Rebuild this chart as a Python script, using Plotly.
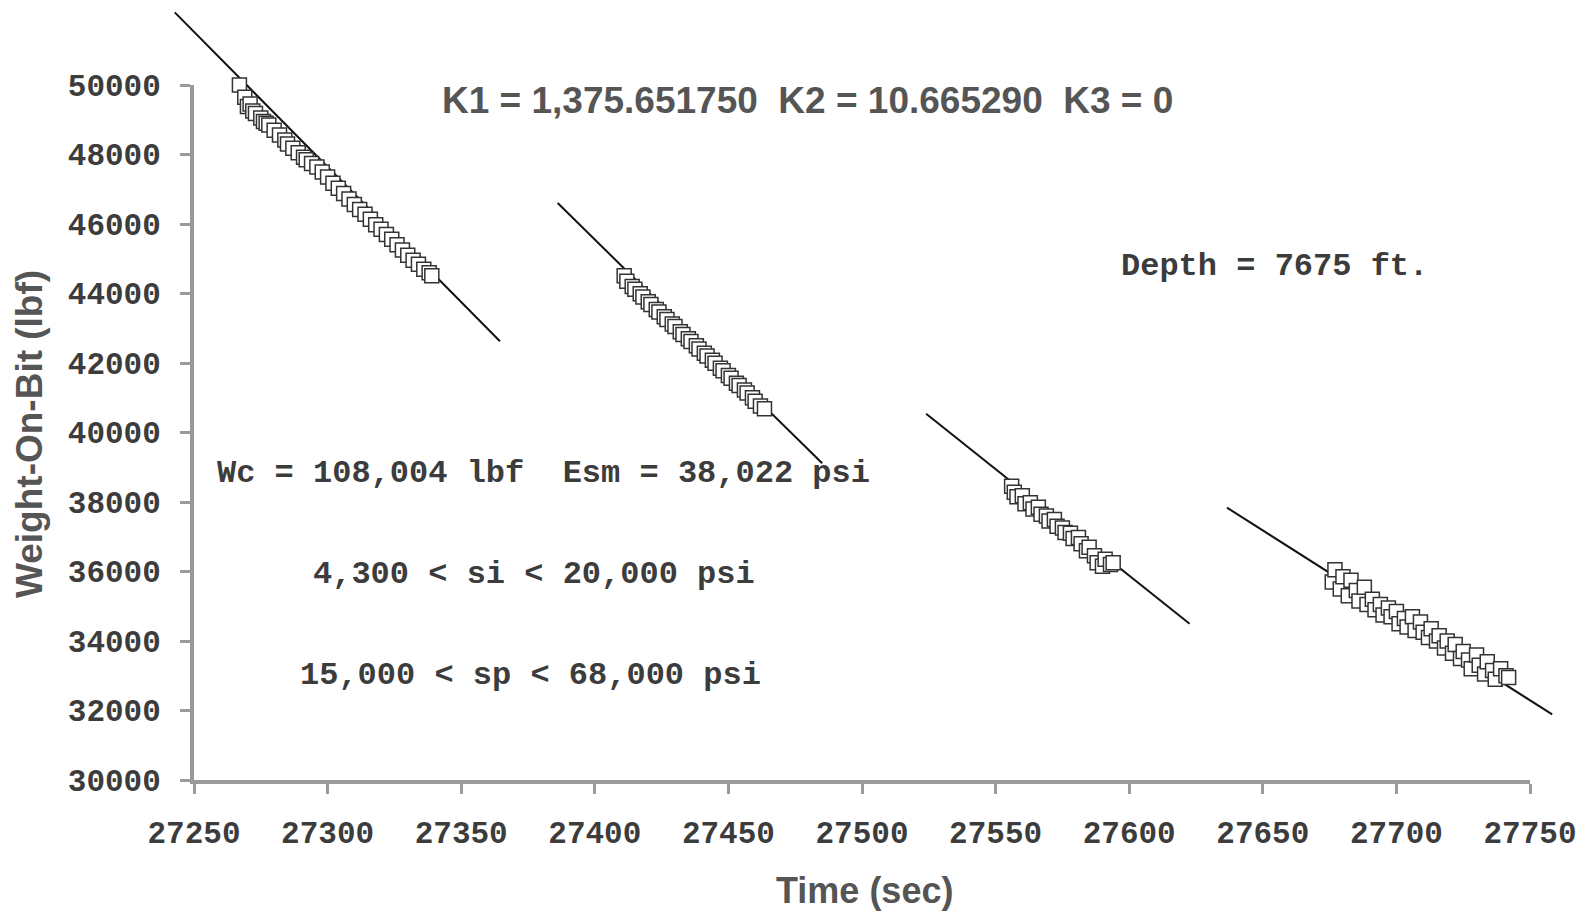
import plotly.graph_objects as go

# ---- measured weight-on-bit samples, four drill-off intervals ----
t1 = [27267, 27269, 27270, 27271, 27272, 27273, 27275, 27276, 27277, 27278, 27280, 27282,
      27284, 27285, 27287, 27289, 27291, 27292, 27294, 27296, 27298, 27300, 27302, 27304,
      27306, 27308, 27310, 27312, 27314, 27316, 27318, 27320, 27322, 27324, 27326, 27328,
      27330, 27332, 27334, 27336, 27338, 27339]
w1 = [50000, 49650, 49380, 49450, 49250, 49180, 49050, 48950, 48900, 48850, 48700, 48560,
      48420, 48300, 48180, 48050, 47920, 47850, 47740, 47640, 47500, 47350, 47170, 47030,
      46880, 46720, 46560, 46420, 46280, 46140, 45980, 45850, 45700, 45560, 45400, 45250,
      45100, 44960, 44840, 44700, 44600, 44514]

t2 = [27411, 27412, 27414, 27415, 27417, 27418, 27420, 27421, 27423, 27424, 27426, 27427,
      27429, 27430, 27432, 27433, 27435, 27436, 27438, 27439, 27441, 27442, 27444, 27445,
      27447, 27448, 27450, 27451, 27453, 27454, 27456, 27457, 27459, 27460, 27462, 27463.5]
w2 = [44514, 44350, 44200, 44120, 43990, 43900, 43760, 43680, 43540, 43470, 43330, 43250,
      43120, 43050, 42900, 42820, 42700, 42620, 42500, 42400, 42280, 42200, 42080, 41990,
      41850, 41780, 41640, 41560, 41420, 41350, 41220, 41140, 41000, 40900, 40760, 40682]

t3 = [27556, 27557, 27558, 27560, 27561, 27563, 27564, 27566, 27567, 27569, 27570, 27572,
      27573, 27575, 27576, 27578, 27579, 27581, 27582, 27584, 27585, 27587, 27588, 27590,
      27591, 27593, 27594]
w3 = [38450, 38280, 38150, 38180, 37950, 37980, 37800, 37850, 37650, 37600, 37450, 37500,
      37300, 37250, 37120, 37100, 36950, 36980, 36800, 36600, 36700, 36450, 36250, 36150,
      36350, 36200, 36250]

t4 = [27676, 27677, 27679, 27680, 27682, 27683, 27685, 27686, 27688, 27689, 27691, 27692,
      27694, 27695, 27697, 27698, 27700, 27701, 27703, 27704, 27706, 27707, 27709, 27710,
      27712, 27713, 27715, 27716, 27718, 27719, 27721, 27722, 27724, 27725, 27727, 27728,
      27730, 27731, 27733, 27734, 27736, 27737, 27739, 27741, 27742]
w4 = [35700, 36050, 35500, 35850, 35300, 35750, 35450, 35150, 35550, 35050, 35200, 34900,
      35050, 34750, 34950, 34700, 34850, 34500, 34650, 34400, 34700, 34300, 34550, 34250,
      34100, 34350, 34000, 34150, 33800, 34000, 33650, 33900, 33500, 33700, 33450, 33200,
      33600, 33300, 33050, 33400, 33150, 32900, 33200, 33000, 32950]

# ---- fitted model lines (start / end of each interval) ----
fit_t = [27242.8, 27364.5, None, 27386.1, 27485.1, None, 27524.0, 27622.6, None, 27636.6, 27758.3]
fit_w = [52090, 42627, None, 46604, 39115, None, 40537, 34499, None, 37837, 31887]

# ---- axis ticks ----
x_ticks = [27250, 27300, 27350, 27400, 27450, 27500, 27550, 27600, 27650, 27700, 27750]
y_ticks = [30000, 32000, 34000, 36000, 38000, 40000, 42000, 44000, 46000, 48000, 50000]
x_labels = [str(v) for v in x_ticks]
y_labels = [str(v) for v in y_ticks]

W, H = 1583, 915
X0, X1 = 27250, 27750
Y0, Y1 = 30000, 50000
# plot frame in pixels
pl, pr, pt, pb = 194, 1530, 85, 780
sx = (X1 - X0) / (pr - pl)
sy = (Y1 - Y0) / (pb - pt)
# full-page data axes so the fit lines can run past the frame
wide_x = [X0 - pl * sx, X0 + (W - pl) * sx]
wide_y = [Y0 - (H - pb) * sy, Y1 + pt * sy]
dom_x = [pl / W, pr / W]
dom_y = [1 - pb / H, 1 - pt / H]

AX_GRAY = "#9a9a9a"
TXT = "#3c3c3c"
mono_tick = dict(family="Liberation Mono, Courier New, monospace", size=31, color=TXT, weight="bold")
mono = dict(family="Liberation Mono, Courier New, monospace", size=32, color=TXT, weight="bold")
sans = "Liberation Sans, Arial, sans-serif"

fig = go.Figure()

fig.add_trace(go.Scatter(x=fit_t, y=fit_w, mode="lines", line=dict(color="#111111", width=2),
                         showlegend=False, hoverinfo="skip"))
for tt, ww in [(t1, w1), (t2, w2), (t3, w3), (t4, w4)]:
    fig.add_trace(go.Scatter(x=tt, y=ww, mode="markers", showlegend=False,
                             marker=dict(symbol="square", size=14, color="white",
                                         line=dict(color="#333333", width=1.5))))

# frame axes carrying ticks and tick labels
fig.add_trace(go.Scatter(x=[], y=[], xaxis="x2", yaxis="y2", showlegend=False))

common = dict(showgrid=False, zeroline=False, showline=True, linecolor=AX_GRAY, linewidth=4,
              tickcolor=AX_GRAY, tickwidth=3, ticklen=10, automargin=False)

fig.update_layout(
    width=W, height=H, autosize=False,
    margin=dict(l=0, r=0, t=0, b=0, pad=0, autoexpand=False),
    paper_bgcolor="white", plot_bgcolor="rgba(0,0,0,0)",
    xaxis=dict(domain=[0, 1], range=wide_x, visible=False, automargin=False),
    yaxis=dict(domain=[0, 1], range=wide_y, visible=False, automargin=False),
    xaxis2=dict(domain=dom_x, range=[X0, X1], anchor="y2", tickvals=x_ticks, ticktext=x_labels,
                ticks="outside", tickfont=mono_tick, ticklabelstandoff=12, **common),
    yaxis2=dict(domain=dom_y, range=[Y0, Y1], anchor="x2", tickvals=y_ticks, ticktext=y_labels,
                ticks="outside", tickfont=mono_tick, ticklabelstandoff=13, **common),
)

def note(text, x, y, xanchor="center", font=None):
    fig.add_annotation(text=text, x=x / W, y=1 - y / H, xref="paper", yref="paper",
                       xanchor=xanchor, yanchor="middle", showarrow=False,
                       font=font or mono)

note("K1 = 1,375.651750\u00a0\u00a0K2 = 10.665290\u00a0\u00a0K3 = 0", 807, 100,
     font=dict(family=sans, size=37, color="#555555", weight="bold"))
note("Depth = 7675 ft.", 1274, 267)
note("Wc = 108,004 lbf\u00a0\u00a0Esm = 38,022 psi", 215, 473, xanchor="left")
note("4,300 &lt; si &lt; 20,000 psi", 534, 574)
note("15,000 &lt; sp &lt; 68,000 psi", 530, 675)
note("Time (sec)", 864, 890, font=dict(family=sans, size=36, color="#555555", weight="bold"))
fig.add_annotation(text="Weight-On-Bit (lbf)", x=30 / W, y=1 - 434 / H, xref="paper", yref="paper",
                   textangle=-90, showarrow=False, xanchor="center", yanchor="middle",
                   font=dict(family=sans, size=37, color="#555555", weight="bold"))

fig.write_html("out.html")
